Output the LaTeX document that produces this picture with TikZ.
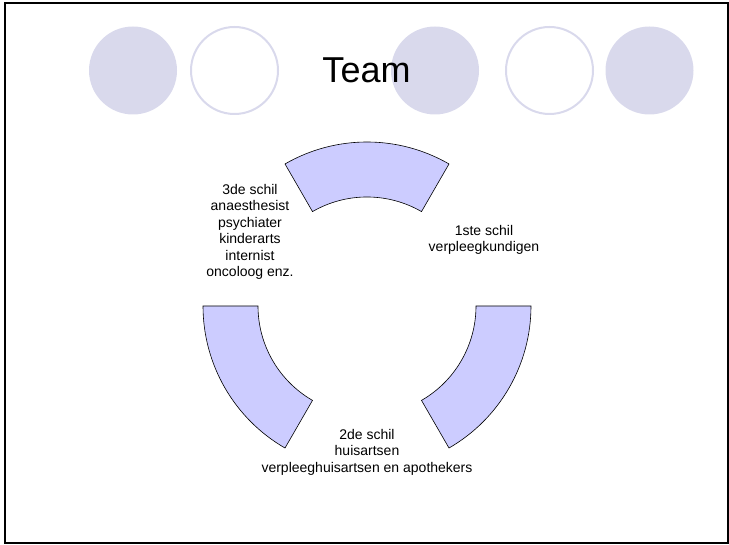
\documentclass[tikz,border=0pt]{standalone}
\usepackage{fontspec}
\setmainfont{Liberation Sans}
\definecolor{dotlila}{RGB}{217,217,236}
\definecolor{schilblauw}{RGB}{204,204,255}
\begin{document}
\begin{tikzpicture}[x=1pt,y=1pt]
	\useasboundingbox (0,0) rectangle (729,545);
	\draw[line width=2pt] (5.3,1.5) rectangle (727.5,541.5);
	
	\begin{scope}[every node/.style={circle,minimum size=88pt,inner sep=0pt}]
		\node[fill=dotlila] (c1) at (133,474.5) {};
		\node[draw=dotlila,line width=2pt,minimum size=87pt] (c2) at (234.5,474.5) {};
		\node[fill=dotlila] (c3) at (435,474.5) {};
		\node[draw=dotlila,line width=2pt,minimum size=87pt] (c4) at (549.5,474.5) {};
		\node[fill=dotlila] (c5) at (649.5,474.5) {};
	\end{scope}
	
	\node[anchor=base,font=\fontsize{36}{40}\selectfont] (title) at (366.5,462) {Team};
	
	\begin{scope}[shift={(367,239)},every path/.style={draw=black,fill=schilblauw,line width=0.6pt}]
		\path (60:164) arc[start angle=60,end angle=120,radius=164] -- (120:109) arc[start angle=120,end angle=60,radius=109] -- cycle;
		\path (180:164) arc[start angle=180,end angle=240,radius=164] -- (240:109) arc[start angle=240,end angle=180,radius=109] -- cycle;
		\path (300:164) arc[start angle=300,end angle=360,radius=164] -- (0:109) arc[start angle=360,end angle=300,radius=109] -- cycle;
	\end{scope}
	
	\begin{scope}[every node/.style={align=center,font=\fontsize{14}{16.5}\selectfont}]
		\node (schil3) at (250,313) {3de schil\\anaesthesist\\psychiater\\kinderarts\\internist\\oncoloog enz.};
		\node (schil1) at (484,305) {1ste schil\\verpleegkundigen};
		\node (schil2) at (367,93) {2de schil\\huisartsen\\verpleeghuisartsen en apothekers};
	\end{scope}
\end{tikzpicture}
\end{document}
